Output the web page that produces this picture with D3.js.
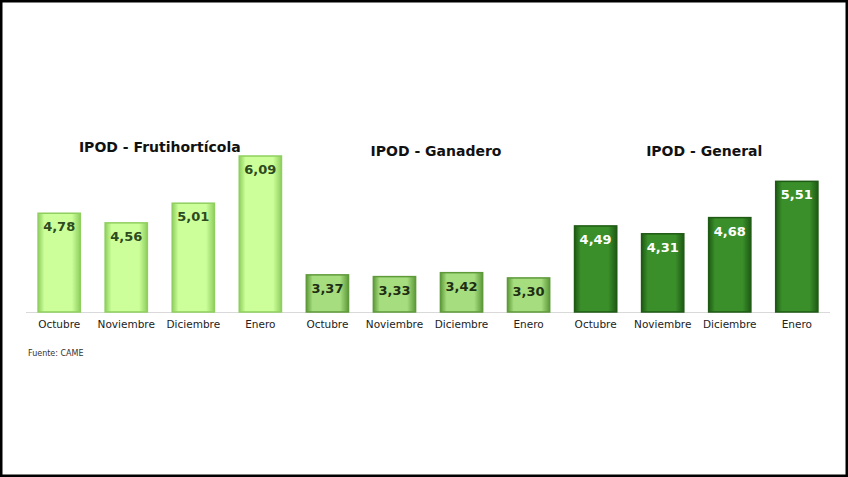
<!DOCTYPE html>
<html><head><meta charset="utf-8">
<script src="https://cdn.jsdelivr.net/npm/d3@7"></script>
<style>body{margin:0;background:#fff}</style>
</head><body>
<script>
// data
months = ["Octubre", "Noviembre", "Diciembre", "Enero"]
groups = ["IPOD - Frutihortícola", "IPOD - Ganadero", "IPOD - General"]
frutihorticola = [4.78, 4.56, 5.01, 6.09]
ganadero = [3.37, 3.33, 3.42, 3.30]
general = [4.49, 4.31, 4.68, 5.51]

width = 848
height = 477
baseY = 312

var series = [frutihorticola, ganadero, general]
var colors = [
	{fill: "#ccff99", edge: "#8fcf5f", text: "#2e4a1e"},
	{fill: "#a6dd7f", edge: "#5e9a3a", text: "#1e2e12"},
	{fill: "#3a8f2a", edge: "#1e5a14", text: "#ffffff"}
]

var items = []
series.forEach((s, gi) => s.forEach((v, mi) => items.push({g: gi, m: mi, key: gi + "-" + mi, month: months[mi], value: v})))

x = d3.scaleBand()
	.domain(items.map(d => d.key))
	.range([26, 830])
	.paddingInner(0.37)
	.paddingOuter(0.18)

y = d3.scaleLinear()
	.domain([2.52, 6.09])
	.range([baseY, 156])

var svg = d3.select("body").append("svg")
	.attr("width", width)
	.attr("height", height)

var defs = svg.append("defs")
colors.forEach((c, i) => {
	var lg = defs.append("linearGradient").attr("id", "g" + i)
	lg.append("stop").attr("offset", "0%").attr("stop-color", c.edge)
	lg.append("stop").attr("offset", "15%").attr("stop-color", c.fill)
	lg.append("stop").attr("offset", "80%").attr("stop-color", c.fill)
	lg.append("stop").attr("offset", "100%").attr("stop-color", c.edge)
})

svg.append("rect").attr("x", 1).attr("y", 1).attr("width", width - 2).attr("height", height - 2)
	.attr("fill", "#fff").attr("stroke", "#000").attr("stroke-width", 3)

svg.append("line").attr("x1", 26).attr("x2", 830).attr("y1", baseY + 0.5).attr("y2", baseY + 0.5)
	.attr("stroke", "#d9d9d9")

svg.append("g").selectAll("rect")
	.data(items)
	.join("rect")
	.attr("x", d => x(d.key))
	.attr("y", d => y(d.value))
	.attr("width", x.bandwidth())
	.attr("height", d => baseY - y(d.value))
	.attr("fill", d => "url(#g" + d.g + ")")
	.attr("stroke", d => colors[d.g].edge)
	.attr("stroke-width", 1.5)

svg.append("g").selectAll("text")
	.data(items)
	.join("text")
	.attr("x", d => x(d.key) + x.bandwidth() / 2)
	.attr("y", d => y(d.value) + 18)
	.attr("text-anchor", "middle")
	.attr("font-family", "DejaVu Sans")
	.attr("font-weight", "bold")
	.attr("font-size", 13)
	.attr("fill", d => colors[d.g].text)
	.text(d => d.value.toFixed(2).replace(".", ","))

var xAxis = d3.axisBottom(x).tickSize(0).tickPadding(9).tickFormat(k => months[+k.split("-")[1]])
var gx = svg.append("g").attr("transform", "translate(0," + baseY + ")").call(xAxis)
gx.select(".domain").remove()
gx.selectAll("text").attr("font-family", "DejaVu Sans").attr("font-size", 10.5).attr("fill", "#222")

var titleY = [152, 156, 156]
svg.append("g").selectAll("text")
	.data(groups)
	.join("text")
	.attr("x", (d, i) => (x(i + "-0") + x(i + "-3") + x.bandwidth()) / 2 + (i == 0 ? 0 : 8))
	.attr("y", (d, i) => titleY[i])
	.attr("text-anchor", "middle")
	.attr("font-family", "DejaVu Sans")
	.attr("font-weight", "bold")
	.attr("font-size", 14)
	.attr("fill", "#111")
	.text(d => d)

svg.append("text").attr("x", 28).attr("y", 356)
	.attr("font-family", "DejaVu Sans").attr("font-size", 8).attr("fill", "#333")
	.text("Fuente: CAME")
</script>
</body></html>
